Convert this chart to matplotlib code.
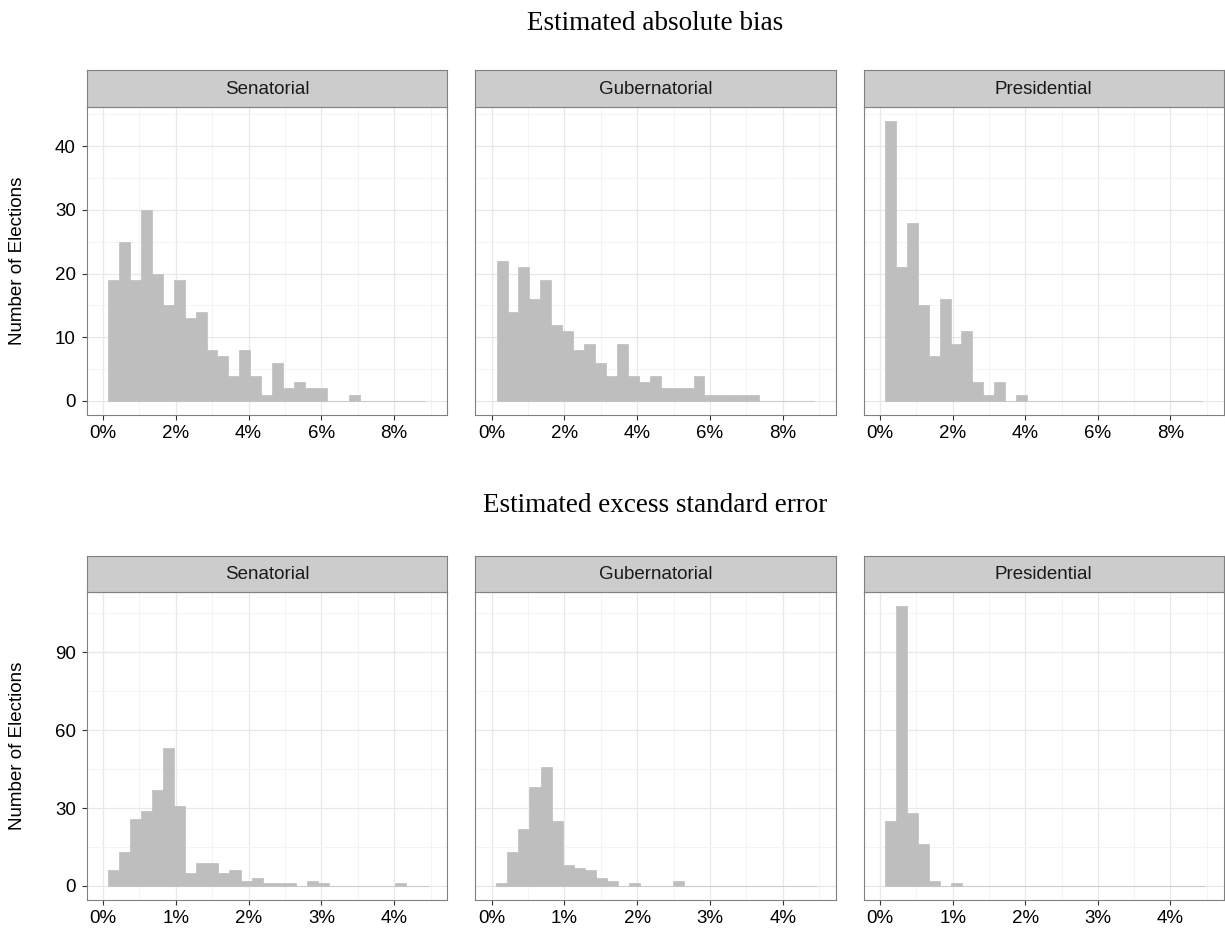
import numpy as np
import matplotlib
matplotlib.use("Agg")
import matplotlib.pyplot as plt

plt.rcParams['font.family'] = ['Liberation Sans', 'DejaVu Sans']

W, H = 1225, 931

races = ["Senatorial", "Gubernatorial", "Presidential"]

# estimated absolute bias: counts per bin (bins of ~0.3 points from 0.137%)
bias_start, bias_width = 0.137, 0.3007
bias_sen = [19, 25, 19, 30, 20, 15, 19, 13, 14, 8, 7, 4, 8, 4, 1, 6, 2, 3, 2, 2,
            0, 0, 1, 0, 0, 0, 0, 0, 0]
bias_gub = [22, 14, 21, 16, 19, 12, 11, 8, 9, 6, 4, 9, 4, 3, 4, 2, 2, 2, 4, 1,
            1, 1, 1, 1, 0, 0, 0, 0, 0]
bias_pres = [44, 21, 28, 15, 7, 16, 9, 11, 3, 1, 3, 0, 1, 0, 0, 0, 0, 0, 0, 0,
             0, 0, 0, 0, 0, 0, 0, 0, 0]

# estimated excess standard error: counts per bin (bins of ~0.152 points from 0.065%)
se_start, se_width = 0.065, 0.152
se_sen = [6, 13, 26, 29, 37, 53, 31, 5, 9, 9, 5, 6, 2, 3, 1, 1, 1, 0, 2, 1,
          0, 0, 0, 0, 0, 0, 1, 0, 0]
se_gub = [1, 13, 22, 38, 46, 25, 8, 7, 6, 3, 2, 0, 1, 0, 0, 0, 2, 0, 0, 0,
          0, 0, 0, 0, 0, 0, 0, 0, 0]
se_pres = [25, 108, 28, 16, 2, 0, 1, 0, 0, 0, 0, 0, 0, 0, 0, 0, 0, 0, 0, 0,
           0, 0, 0, 0, 0, 0, 0, 0, 0]

bias_xticks = [0, 2, 4, 6, 8]
bias_yticks = [0, 10, 20, 30, 40]
se_xticks = [0, 1, 2, 3, 4]
se_yticks = [0, 30, 60, 90]

panel_cols = [(86.7, 447.3), (475.2, 835.8), (863.7, 1223.5)]


def box(x0, y0, x1, y1):
    return [x0 / W, 1 - y1 / H, (x1 - x0) / W, (y1 - y0) / H]


fig = plt.figure(figsize=(W / 100, H / 100), dpi=100)


def draw_row(series, start, width, xlim, xticks, yticks, strip_top, panel_top,
             panel_bot, title, title_base):
    ymax = max(max(s) for s in series)
    for i, (counts, race) in enumerate(zip(series, races)):
        x0, x1 = panel_cols[i]
        ax = fig.add_axes(box(x0, panel_top, x1, panel_bot))
        edges = start + width * np.arange(len(counts))
        ax.bar(edges, counts, width=width, align='edge', color='#bebebe',
               edgecolor='#bebebe', linewidth=0.5, zorder=2)
        ax.set_xlim(*xlim)
        ax.set_ylim(-0.05 * ymax, 1.05 * ymax)
        ax.set_xticks(xticks)
        ax.set_xticklabels([f"{t}%" for t in xticks])
        xstep = xticks[1] - xticks[0]
        ax.set_xticks([t + xstep / 2 for t in xticks], minor=True)
        ystep = yticks[1] - yticks[0]
        ax.set_yticks(yticks)
        ax.set_yticks([t + ystep / 2 for t in yticks], minor=True)
        ax.grid(which='major', color='#e8e8e8', linewidth=0.9, zorder=0)
        ax.grid(which='minor', color='#f3f3f3', linewidth=0.6, zorder=0)
        ax.set_axisbelow(True)
        ax.tick_params(which='minor', length=0)
        ax.tick_params(which='major', length=3.4, width=0.8, color='#333333',
                       labelsize=13.5, labelcolor='black')
        ax.tick_params(axis='x', pad=3.5)
        ax.tick_params(axis='y', pad=4.5)
        for sp in ax.spines.values():
            sp.set_color('#808080')
            sp.set_linewidth(0.8)
        if i == 0:
            ax.set_ylabel("Number of Elections", fontsize=13.5, labelpad=21)
        else:
            ax.tick_params(axis='y', left=False, labelleft=False)

        sax = fig.add_axes(box(x0, strip_top, x1, panel_top))
        sax.set_facecolor('#cccccc')
        sax.set_xticks([])
        sax.set_yticks([])
        for sp in sax.spines.values():
            sp.set_color('#808080')
            sp.set_linewidth(0.8)
        sax.text(0.5, 0.48, race, ha='center', va='center', fontsize=13.5,
                 color='#1a1a1a', transform=sax.transAxes)

    cx = (panel_cols[0][0] + panel_cols[2][1]) / 2 / W
    fig.text(cx, 1 - title_base / H, title, ha='center', va='baseline',
             fontsize=19.5, family='Liberation Serif')


draw_row([bias_sen, bias_gub, bias_pres], bias_start, bias_width, (-0.45, 9.46),
         bias_xticks, bias_yticks, 70, 106.7, 415, "Estimated absolute bias", 30)
draw_row([se_sen, se_gub, se_pres], se_start, se_width, (-0.225, 4.73),
         se_xticks, se_yticks, 555.7, 591.7, 900, "Estimated excess standard error", 511.7)

fig.savefig("out.png", dpi=100)
